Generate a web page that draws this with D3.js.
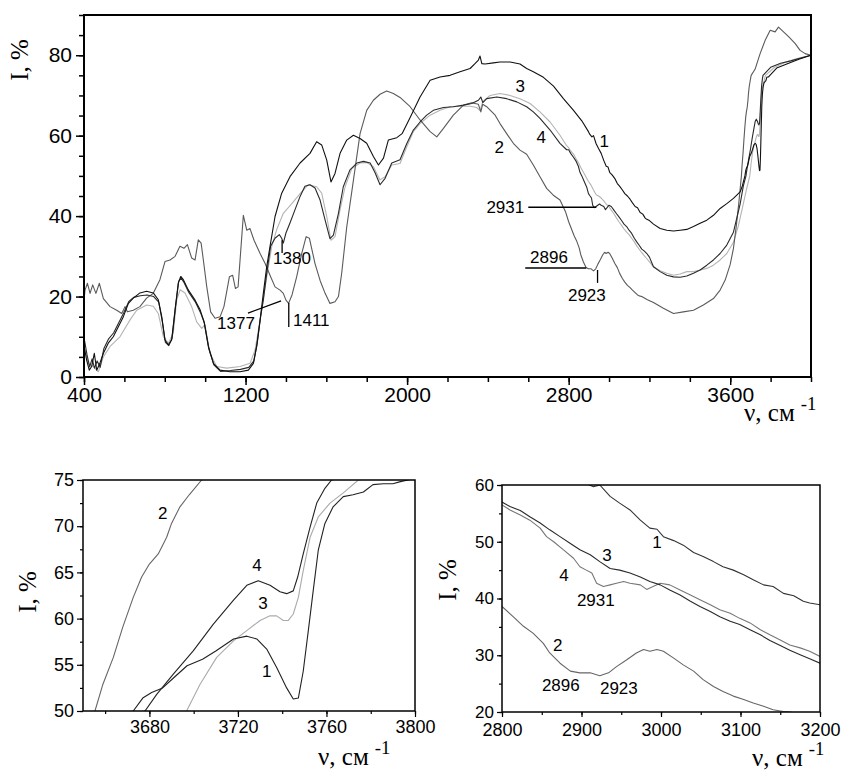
<!DOCTYPE html>
<html lang="ru">

<head>
    <meta charset="UTF-8">
    <title>ИК-спектры</title>
    <script src="https://cdn.jsdelivr.net/npm/d3@7/dist/d3.min.js"></script>
    <style>
        * {
            margin: 0;
        }

        body {
            background: #fff;
        }

        svg {
            display: block;
        }

        .tick text,
        .note {
            font-family: "Liberation Sans", Arial, sans-serif;
            fill: #000;
        }

        .title {
            font-family: "Liberation Serif", "Times New Roman", serif;
            fill: #000;
        }
    </style>
</head>

<body>
    <svg id="chart" width="842" height="772"></svg>
    <script>
        // кривые 1-4: [волновое число, см-1 ; I, %]
        var curve1 = [[401, 7.5], [413, 4.2], [426, 1.7], [438, 2.6], [451, 5.9], [463, 1.7], [479, 3.5], [496, 5.9], [520, 8.4], [545, 10], [570, 12.5], [595, 15], [620, 18.3], [644, 19.6], [677, 20.9], [710, 21.3], [743, 20.9], [768, 19.2], [785, 15], [801, 9.2], [818, 8], [834, 9.2], [851, 16.7], [867, 23.4], [879, 25], [892, 24.2], [917, 21.6], [950, 19.1], [975, 16.7], [994, 13.8], [1016, 7.6], [1041, 3.4], [1074, 1.7], [1123, 1.3], [1173, 1.3], [1214, 1.7], [1239, 3.4], [1255, 7.6], [1272, 14.2], [1288, 20.8], [1305, 27.5], [1321, 32.4], [1346, 39.9], [1379, 45.7], [1420, 49.8], [1470, 53.2], [1519, 55.6], [1552, 58.5], [1577, 57.7], [1602, 53.9], [1623, 48.5], [1643, 50.6], [1668, 55.6], [1701, 58.9], [1734, 60.1], [1767, 59.3], [1800, 58.1], [1833, 54.8], [1858, 52.7], [1883, 54.4], [1907, 58.9], [1949, 59.5], [1975, 60.5], [2015, 64.5], [2064, 69.6], [2114, 73.8], [2163, 74.6], [2213, 75], [2262, 75.9], [2312, 76.7], [2336, 77.9], [2353, 78.8], [2361, 79.8], [2370, 77.9], [2386, 77.8], [2427, 78.1], [2460, 78.3], [2510, 78.3], [2559, 77.8], [2592, 76.7], [2625, 75.9], [2675, 74.5], [2725, 72.3], [2774, 69.2], [2824, 66.3], [2865, 63.7], [2898, 61], [2905, 60.3], [2915, 59.7], [2923, 60], [2936, 58], [2948, 56.8], [2961, 55.6], [2974, 53.8], [2986, 52.4], [2995, 52.2], [3003, 50.9], [3016, 50.2], [3028, 49.4], [3041, 48.1], [3053, 47.4], [3066, 46.5], [3078, 45.6], [3091, 45], [3104, 44.2], [3116, 43.3], [3129, 42.4], [3141, 42.1], [3154, 40.9], [3167, 40.5], [3179, 39.5], [3187, 39.2], [3200, 38.9], [3220, 38], [3253, 36.9], [3286, 36.5], [3319, 36.3], [3352, 36.5], [3385, 36.7], [3418, 37.4], [3451, 38.2], [3484, 39], [3517, 40.2], [3550, 41.9], [3583, 43.1], [3616, 44.4], [3649, 46], [3660, 47.5], [3672.7, 50], [3677, 51.4], [3681, 52], [3686, 52.5], [3691, 53.6], [3697, 54.9], [3704, 55.6], [3710, 56.5], [3718, 57.8], [3724, 58.1], [3728.5, 57.8], [3733, 56.7], [3737.5, 54.7], [3742, 52.5], [3745, 51.3], [3747.3, 51.4], [3749.5, 54.3], [3751.8, 58.7], [3754, 63], [3756.3, 67.4], [3759.3, 70.3], [3763, 72.1], [3767.6, 73.2], [3772, 73.4], [3776.7, 73.7], [3781, 74.5], [3785.7, 74.6], [3790, 74.6], [3793, 74.8], [3830, 76.8], [3880, 77.8], [3940, 79], [4000, 80]];

        var curve2 = [[402, 20], [405, 21.6], [417, 23.3], [430, 20.8], [443, 22.9], [459, 20.8], [476, 23.3], [496, 19.5], [529, 17.5], [562, 16.6], [587, 15.8], [603, 17.5], [615, 16.2], [644, 16.6], [677, 17.5], [710, 19.6], [743, 20.8], [776, 24.2], [801, 28.7], [826, 29.1], [851, 30], [875, 32.5], [895, 32], [912, 32.9], [933, 29.6], [950, 29.1], [966, 34.1], [980, 33.3], [991, 29.1], [1008, 22.4], [1027, 16.2], [1049, 14.6], [1074, 15], [1093, 17.5], [1120, 24.9], [1136, 25.3], [1150, 22], [1163, 22.4], [1189, 40.2], [1206, 36.5], [1222, 36.9], [1242, 34], [1272, 30.7], [1297, 28.2], [1321, 25.3], [1346, 22.4], [1371, 21.6], [1387, 20.8], [1400, 19.1], [1413, 18.3], [1430, 20.4], [1453, 24.9], [1478, 30.7], [1500, 34.9], [1516, 34.5], [1544, 28.2], [1569, 24], [1594, 20.8], [1618, 18.3], [1643, 18.7], [1660, 20], [1676, 25.8], [1701, 37.3], [1734, 48.9], [1767, 60.5], [1800, 66.3], [1833, 68.8], [1866, 70.3], [1899, 71.1], [1932, 70.5], [1965, 69.5], [2015, 67.2], [2064, 63.9], [2114, 61], [2147, 59.7], [2180, 61.8], [2229, 65.1], [2279, 67.6], [2320, 68.2], [2353, 67.8], [2365, 65.9], [2374, 67.8], [2394, 67.2], [2436, 65.1], [2460, 63], [2493, 60.5], [2526, 58.1], [2559, 56.4], [2592, 55.4], [2625, 52.7], [2658, 49.8], [2691, 46.9], [2724, 45.2], [2757, 44], [2785, 41], [2800, 38.6], [2814, 36.8], [2827, 35.1], [2839, 33.9], [2852, 32.1], [2860, 30.4], [2873, 28.6], [2886, 27.2], [2898, 26.9], [2911, 26.9], [2923, 26.4], [2934, 26.9], [2944, 28], [2957, 29.2], [2969, 30.4], [2978, 31], [2986, 30.7], [2995, 31], [3003, 30.7], [3016, 29.5], [3028, 28.3], [3041, 27.2], [3053, 25.7], [3066, 24.5], [3078, 23.6], [3091, 22.8], [3104, 22.2], [3116, 21.6], [3129, 21], [3141, 20.4], [3154, 20.1], [3162, 20], [3190, 19.2], [3220, 18.5], [3269, 17.1], [3319, 15.8], [3368, 16.2], [3418, 16.6], [3467, 17.9], [3517, 19.5], [3550, 21.6], [3575, 24.1], [3600, 28], [3616, 32], [3630, 37.5], [3643, 43.5], [3655.4, 50], [3659, 52.9], [3663.7, 55.8], [3668, 59.1], [3672.7, 62.3], [3676.5, 64.5], [3680, 65.9], [3684, 67], [3687.8, 68.8], [3690, 70.3], [3693.8, 72.1], [3698, 73.4], [3703.6, 75], [3723, 76.5], [3748, 80.4], [3773, 83.7], [3798, 86.2], [3822, 85.8], [3839, 87], [3864, 85.8], [3889, 84.6], [3922, 82.9], [3946, 81.2], [3971, 80.4], [4000, 80]];

        var curve3 = [[405, 6.7], [421, 3.4], [446, 2.6], [471, 1.3], [496, 5], [529, 7.6], [578, 10], [628, 14.2], [661, 16.6], [710, 17.9], [743, 17.6], [768, 15.8], [793, 10], [818, 8.4], [842, 10.9], [859, 19.1], [876, 21.7], [900, 20.9], [933, 17.5], [958, 13.7], [983, 12.1], [999, 13], [1024, 5.9], [1057, 2.6], [1107, 2.2], [1173, 2.6], [1222, 3.4], [1247, 6.7], [1272, 14.2], [1305, 25], [1330, 32.5], [1354, 36.6], [1387, 40.7], [1429, 43.1], [1470, 45.6], [1511, 47.8], [1552, 47.3], [1577, 45.7], [1602, 39.9], [1623, 34], [1643, 34.9], [1668, 41.6], [1693, 47.3], [1726, 51.8], [1767, 53.2], [1800, 53.3], [1833, 52.3], [1866, 49], [1891, 49.8], [1924, 52.7], [1965, 53.1], [1998, 57.2], [2031, 61], [2064, 63], [2114, 65.1], [2163, 66.3], [2213, 67.2], [2262, 67.3], [2312, 67.3], [2345, 67], [2361, 66.2], [2375, 68.5], [2411, 70], [2460, 70.5], [2510, 70], [2559, 69.2], [2609, 68], [2658, 65.9], [2708, 63.4], [2757, 60.1], [2790, 57.5], [2800, 57], [2810, 56.2], [2823, 55.5], [2835, 54.4], [2848, 53.3], [2860, 52.1], [2873, 50.9], [2886, 49.7], [2898, 48.6], [2911, 47.7], [2923, 46.5], [2936, 45.3], [2948, 45], [2961, 44.5], [2974, 43.8], [2986, 43], [2999, 42.4], [3011, 41.5], [3024, 40.6], [3037, 39.5], [3049, 38.6], [3062, 37.7], [3074, 36.8], [3087, 36], [3099, 35.4], [3112, 34.5], [3125, 33.6], [3137, 32.6], [3150, 31.7], [3162, 30.9], [3175, 30.1], [3187, 29.4], [3200, 28.6], [3220, 27.4], [3253, 26.4], [3286, 25.8], [3319, 25.3], [3352, 25.6], [3385, 26.2], [3418, 26.2], [3451, 26.6], [3484, 27], [3517, 27.8], [3550, 29.1], [3583, 30.7], [3616, 33.5], [3640, 37.5], [3660, 42], [3680, 46.5], [3696.8, 50], [3702.9, 52.9], [3710.4, 55.8], [3718, 57.6], [3724, 58.7], [3730, 59.8], [3734.5, 60.3], [3737.5, 60.3], [3740.5, 59.8], [3742.8, 59.8], [3745, 60.5], [3747.3, 62.3], [3749.5, 65.2], [3752.6, 68.8], [3756.3, 71], [3761.6, 72.5], [3767.6, 73.6], [3774.4, 75], [3820, 77], [3870, 78.2], [3930, 79.2], [4000, 80]];

        var curve4 = [[403, 9], [415, 5.5], [428, 2.5], [440, 4.5], [452, 2.2], [465, 4], [480, 2.4], [498, 7], [522, 9.5], [547, 11], [572, 13.5], [597, 16], [622, 18.8], [646, 19.8], [679, 20.2], [712, 20.4], [745, 20], [770, 18.6], [787, 14], [803, 8.6], [820, 7.8], [836, 9.6], [853, 17.5], [869, 23.8], [881, 24.6], [894, 23.6], [919, 21], [952, 18.6], [977, 16], [996, 13.5], [1018, 7], [1043, 3], [1076, 1.4], [1125, 1.6], [1175, 1.9], [1216, 2.4], [1241, 4], [1258, 8.5], [1274, 14.8], [1288, 19.1], [1305, 25.8], [1324, 32.5], [1346, 34.5], [1367, 35.4], [1379, 34.5], [1387, 33.3], [1400, 35.8], [1420, 38.3], [1445, 41.6], [1470, 44.9], [1494, 47.4], [1519, 47.8], [1544, 47], [1569, 44], [1594, 39], [1618, 34.4], [1635, 35.3], [1660, 40.7], [1684, 47.3], [1717, 51.5], [1751, 53.2], [1784, 53.6], [1817, 53.2], [1842, 50.7], [1866, 47.8], [1891, 49.4], [1924, 53.2], [1965, 54], [1998, 58], [2031, 61.4], [2064, 63.4], [2097, 65.1], [2130, 66.3], [2180, 67], [2229, 67.2], [2279, 67.6], [2320, 68], [2353, 68.8], [2365, 69.6], [2375, 68.2], [2394, 69.2], [2444, 69.6], [2493, 69.2], [2543, 68.4], [2592, 67.2], [2625, 65.9], [2658, 64.3], [2708, 61.4], [2757, 58.1], [2790, 56.5], [2800, 56.5], [2810, 55.6], [2823, 54.7], [2835, 53.8], [2848, 52.4], [2856, 50.9], [2865, 50], [2877, 48.6], [2890, 47.1], [2898, 45.6], [2906, 45], [2913, 44.5], [2919, 42.7], [2927.5, 42.1], [2936, 42.4], [2944, 42.7], [2953, 43], [2961, 42.7], [2974, 42.4], [2982, 41.6], [2990, 42.1], [2999, 42.7], [3011, 42.4], [3024, 41.5], [3037, 40.6], [3049, 39.8], [3062, 38.9], [3074, 38], [3087, 37.4], [3099, 36.5], [3112, 35.7], [3125, 34.5], [3137, 33.6], [3150, 32.7], [3162, 31.8], [3175, 31.3], [3187, 30.7], [3200, 29.8], [3220, 27.4], [3253, 26.2], [3286, 25.3], [3319, 24.9], [3352, 24.8], [3385, 25.1], [3418, 25.8], [3451, 26.6], [3484, 27.8], [3517, 29.1], [3550, 30.7], [3583, 32.8], [3616, 36], [3649, 43], [3665, 47.5], [3678, 50], [3683.3, 51.8], [3690.8, 54], [3699.8, 56.5], [3708.9, 59.4], [3718, 62], [3724, 63.6], [3729.2, 64.1], [3734.5, 63.6], [3739, 62.9], [3742, 62.7], [3745, 63], [3747, 64.5], [3749.5, 67], [3752.6, 69.9], [3755.6, 72.5], [3759.3, 74.1], [3762.3, 75], [3800, 77], [3850, 78], [3900, 78.6], [3950, 79.3], [4000, 80]];

        // подписи осей
        var mainXTicks = [400, 1200, 2000, 2800, 3600];
        var mainYTicks = [0, 20, 40, 60, 80];
        var leftXTicks = [3680, 3720, 3760, 3800];
        var leftYTicks = [50, 55, 60, 65, 70, 75];
        var rightXTicks = [2800, 2900, 3000, 3100, 3200];
        var rightYTicks = [20, 30, 40, 50, 60];

        var svg = d3.select('#chart');
        var fmt = d3.format('d');

        function panel(o) {
            var x = d3.scaleLinear().domain(o.xd).range([o.l, o.r]);
            var y = d3.scaleLinear().domain(o.yd).range([o.b, o.t]);
            var g = svg.append('g');

            svg.append('clipPath').attr('id', 'clip-' + o.name)
                .append('rect')
                .attr('x', o.l).attr('y', o.t)
                .attr('width', o.r - o.l).attr('height', o.b - o.t);

            // мелкие деления
            g.append('g')
                .attr('transform', 'translate(0,' + o.b + ')')
                .call(d3.axisBottom(x).tickValues(o.xMinor).tickSize(o.minor).tickFormat(''))
                .call(function (a) { a.select('.domain').remove(); });
            g.append('g')
                .attr('transform', 'translate(' + o.l + ',0)')
                .call(d3.axisLeft(y).tickValues(o.yMinor).tickSize(o.minor).tickFormat(''))
                .call(function (a) { a.select('.domain').remove(); });

            // основные деления с подписями
            g.append('g')
                .attr('transform', 'translate(0,' + o.b + ')')
                .call(d3.axisBottom(x).tickValues(o.xTicks).tickSize(o.major).tickPadding(o.xPad).tickFormat(fmt))
                .call(function (a) {
                    a.select('.domain').remove();
                    a.selectAll('text').style('font-size', o.xFont + 'px');
                });
            g.append('g')
                .attr('transform', 'translate(' + o.l + ',0)')
                .call(d3.axisLeft(y).tickValues(o.yTicks).tickSize(o.major).tickPadding(o.yPad).tickFormat(fmt))
                .call(function (a) {
                    a.select('.domain').remove();
                    a.selectAll('text').style('font-size', o.yFont + 'px');
                });

            g.selectAll('.tick line').attr('stroke', '#000').attr('stroke-width', o.tickW);

            var line = d3.line()
                .x(function (d) { return x(d[0]); })
                .y(function (d) { return y(d[1]); });

            g.append('g').attr('clip-path', 'url(#clip-' + o.name + ')')
                .selectAll('path')
                .data(o.curves)
                .enter()
                .append('path')
                .attr('d', function (c) { return line(c.data); })
                .attr('fill', 'none')
                .attr('stroke', function (c) { return c.color; })
                .attr('stroke-width', 1.1)
                .attr('stroke-linejoin', 'round');

            // рамка
            g.append('rect')
                .attr('x', o.l).attr('y', o.t)
                .attr('width', o.r - o.l).attr('height', o.b - o.t)
                .attr('fill', 'none').attr('stroke', '#000').attr('stroke-width', o.frameW);

            // номера кривых и полосы
            g.selectAll('text.note')
                .data(o.notes)
                .enter()
                .append('text')
                .attr('class', 'note')
                .attr('x', function (n) { return x(n[0]); })
                .attr('y', function (n) { return y(n[1]); })
                .attr('dy', '0.36em')
                .attr('text-anchor', function (n) { return n[3] || 'middle'; })
                .style('font-size', o.noteFont + 'px')
                .text(function (n) { return n[2]; });

            g.selectAll('line.lead')
                .data(o.leads)
                .enter()
                .append('line')
                .attr('class', 'lead')
                .attr('x1', function (d) { return x(d[0]); })
                .attr('y1', function (d) { return y(d[1]); })
                .attr('x2', function (d) { return x(d[2]); })
                .attr('y2', function (d) { return y(d[3]); })
                .attr('stroke', '#000').attr('stroke-width', 1.3);

            // подписи осей
            g.append('text').attr('class', 'title')
                .attr('transform', 'translate(' + o.yTitle[0] + ',' + o.yTitle[1] + ') rotate(-90)')
                .attr('text-anchor', 'middle')
                .style('font-size', o.titleFont + 'px')
                .text('I, %');

            var tx = g.append('text').attr('class', 'title')
                .attr('x', o.xTitle[0]).attr('y', o.xTitle[1])
                .style('font-size', o.titleFont + 'px');
            tx.append('tspan').text('ν, см');
            tx.append('tspan')
                .attr('dx', 6).attr('dy', -o.titleFont * 0.45)
                .style('font-size', (o.titleFont * 0.75) + 'px')
                .text('-1');
        }

        // основной спектр
        panel({
            name: 'main',
            xd: [400, 4000], yd: [0, 90],
            l: 84, r: 811, t: 15, b: 377,
            xTicks: mainXTicks, yTicks: mainYTicks,
            xMinor: d3.range(400, 4001, 200), yMinor: d3.range(0, 91, 5),
            major: 8, minor: 5, tickW: 1.5, frameW: 2,
            xPad: 2, yPad: 4, xFont: 21, yFont: 21, noteFont: 17, titleFont: 25,
            curves: [
                { data: curve3, color: '#b4b4b4' },
                { data: curve2, color: '#5a5a5a' },
                { data: curve4, color: '#2a2a2a' },
                { data: curve1, color: '#111' }
            ],
            notes: [
                [2560, 72.5, '3'], [2664, 59.6, '4'], [2456, 57.1, '2'], [2976, 58.6, '1'],
                [2580, 42.2, '2931', 'end'], [2609, 29.8, '2896', 'start'], [2890, 20.4, '2923'],
                [1336, 29.6, '1380', 'start'], [1059, 13.4, '1377', 'start'], [1435, 14.2, '1411', 'start']
            ],
            leads: [
                [2600, 42.2, 2937, 42.2], [2585, 27.1, 2887, 27.1], [2943, 26.6, 2943, 23.4],
                [1381, 34, 1381, 30.8], [1212, 15.9, 1376, 18.9], [1414, 18.4, 1414, 12.4]
            ],
            yTitle: [28, 60], xTitle: [744, 421]
        });

        // вставка 3650-3800
        panel({
            name: 'left',
            xd: [3650, 3800], yd: [50, 75],
            l: 83, r: 415, t: 480, b: 711,
            xTicks: leftXTicks, yTicks: leftYTicks,
            xMinor: d3.range(3660, 3801, 20), yMinor: d3.range(50, 75.1, 2.5),
            major: 6, minor: 3, tickW: 1.2, frameW: 1.5,
            xPad: 3, yPad: 3, xFont: 18, yFont: 18, noteFont: 17, titleFont: 25,
            curves: [
                { data: curve3, color: '#aaa' },
                { data: curve2, color: '#666' },
                { data: curve4, color: '#222' },
                { data: curve1, color: '#222' }
            ],
            notes: [[3686, 71.4, '2'], [3728.6, 65.8, '4'], [3731.3, 61.7, '3'], [3733, 54.3, '1']],
            leads: [],
            yTitle: [36, 592], xTitle: [318, 765]
        });

        // вставка 2800-3200
        panel({
            name: 'right',
            xd: [2800, 3200], yd: [20, 60],
            l: 502, r: 820, t: 485, b: 712,
            xTicks: rightXTicks, yTicks: rightYTicks,
            xMinor: d3.range(2800, 3201, 50), yMinor: d3.range(20, 61, 5),
            major: 5, minor: 3, tickW: 1.2, frameW: 1.5,
            xPad: 6, yPad: 3, xFont: 18, yFont: 17, noteFont: 17, titleFont: 25,
            curves: [
                { data: curve4, color: '#777' },
                { data: curve2, color: '#666' },
                { data: curve3, color: '#2a2a2a' },
                { data: curve1, color: '#333' }
            ],
            notes: [
                [2995, 50, '1'], [2932, 47.7, '3'], [2878, 44.1, '4'], [2918, 39.7, '2931'],
                [2870, 31.8, '2'], [2874, 24.8, '2896'], [2947, 24.2, '2923']
            ],
            leads: [],
            yTitle: [456, 580], xTitle: [752, 766]
        });
    </script>
</body>

</html>
